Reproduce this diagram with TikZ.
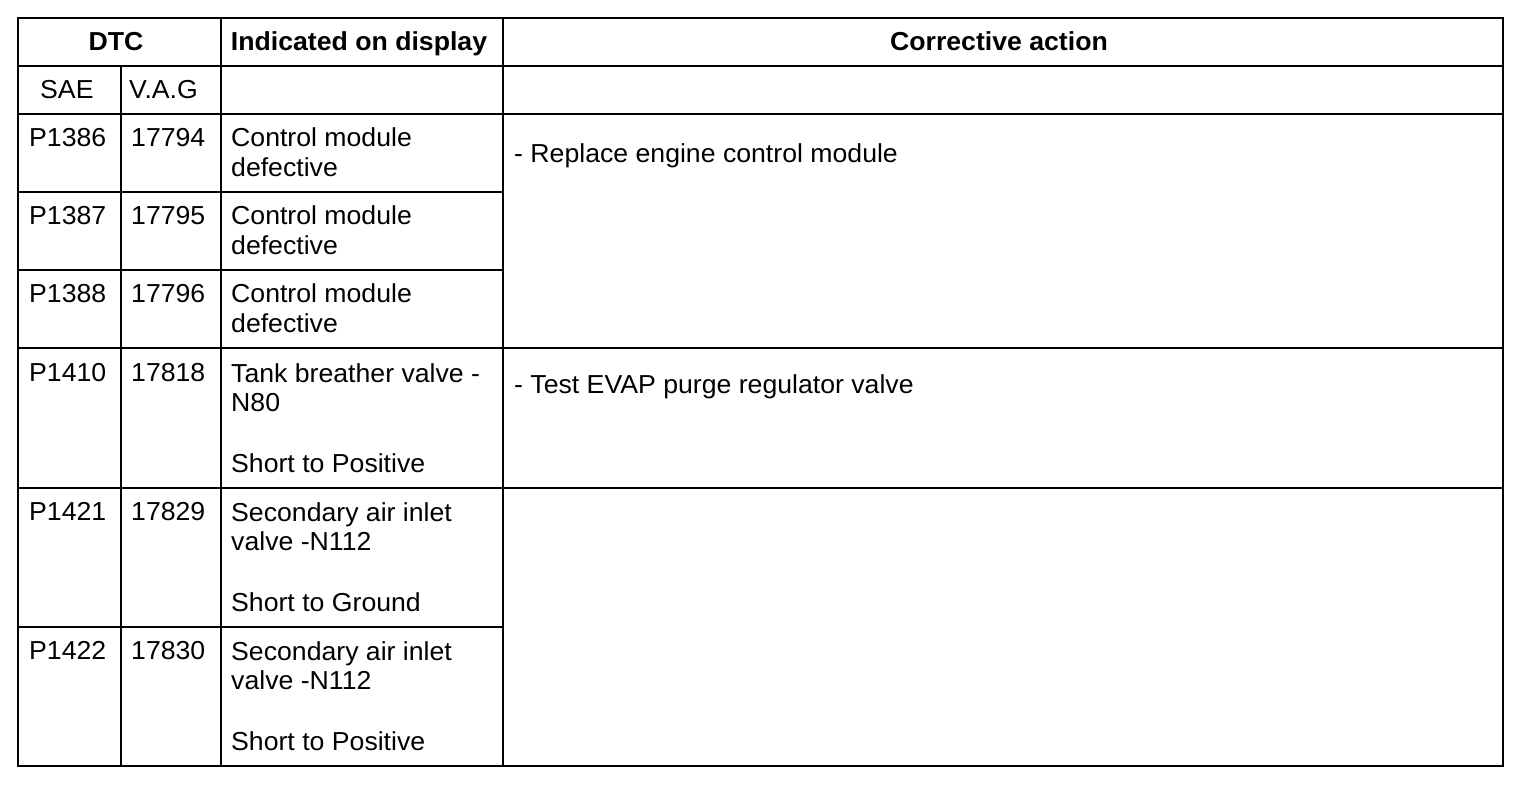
\documentclass[tikz,border=0pt]{standalone}
\usepackage{fontspec}
\setmainfont{Liberation Sans}[FakeStretch=1.025]
\begin{document}
\begin{tikzpicture}[x=1pt,y=-1pt,
  rule/.style={line width=2.3pt,line cap=rect},
  cell/.style={anchor=base west,inner sep=0pt,align=left,font=\fontsize{26}{29.5}\selectfont},
  head/.style={anchor=base,inner sep=0pt,font=\fontsize{26}{29.5}\selectfont\bfseries}]
\useasboundingbox (0,0) rectangle (1536,792);
% frame and rules
\draw[rule] (18,18) rectangle (1503,766);
\draw[rule] (18,66) -- (1503,66);
\draw[rule] (18,114) -- (1503,114);
\draw[rule] (18,192) -- (503,192);
\draw[rule] (18,270) -- (503,270);
\draw[rule] (18,348) -- (1503,348);
\draw[rule] (18,488) -- (1503,488);
\draw[rule] (18,627) -- (503,627);
\draw[rule] (121,66) -- (121,766);
\draw[rule] (221,18) -- (221,766);
\draw[rule] (503,18) -- (503,766);
% header
\node[head] (hdtc) at (116,51) {DTC};
\node[head] (hind) at (359,51) {Indicated on display};
\node[head] (hcor) at (999,51) {Corrective action};
\node[cell] (hsae) at (40,99) {SAE};
\node[cell] (hvag) at (129,99) {V.A.G};
% rows (base anchor = baseline of the last line)
\node[cell] (s1) at (29,146) {P1386};
\node[cell] (v1) at (131,146) {17794};
\node[cell] (d1) at (231,176) {Control module\\defective};
\node[cell] (c1) at (514,162) {- Replace engine control module};
\node[cell] (s2) at (29,224) {P1387};
\node[cell] (v2) at (131,224) {17795};
\node[cell] (d2) at (231,254) {Control module\\defective};
\node[cell] (s3) at (29,302) {P1388};
\node[cell] (v3) at (131,302) {17796};
\node[cell] (d3) at (231,332) {Control module\\defective};
\node[cell] (s4) at (29,381) {P1410};
\node[cell] (v4) at (131,381) {17818};
\node[cell] (d4) at (231,472.5) {Tank breather valve -\\N80\\[31.5pt]Short to Positive};
\node[cell] (c4) at (514,393) {- Test EVAP purge regulator valve};
\node[cell] (s5) at (29,520) {P1421};
\node[cell] (v5) at (131,520) {17829};
\node[cell] (d5) at (231,611.5) {Secondary air inlet\\valve -N112\\[31.5pt]Short to Ground};
\node[cell] (s6) at (29,659) {P1422};
\node[cell] (v6) at (131,659) {17830};
\node[cell] (d6) at (231,750.5) {Secondary air inlet\\valve -N112\\[31.5pt]Short to Positive};
\end{tikzpicture}
\end{document}
